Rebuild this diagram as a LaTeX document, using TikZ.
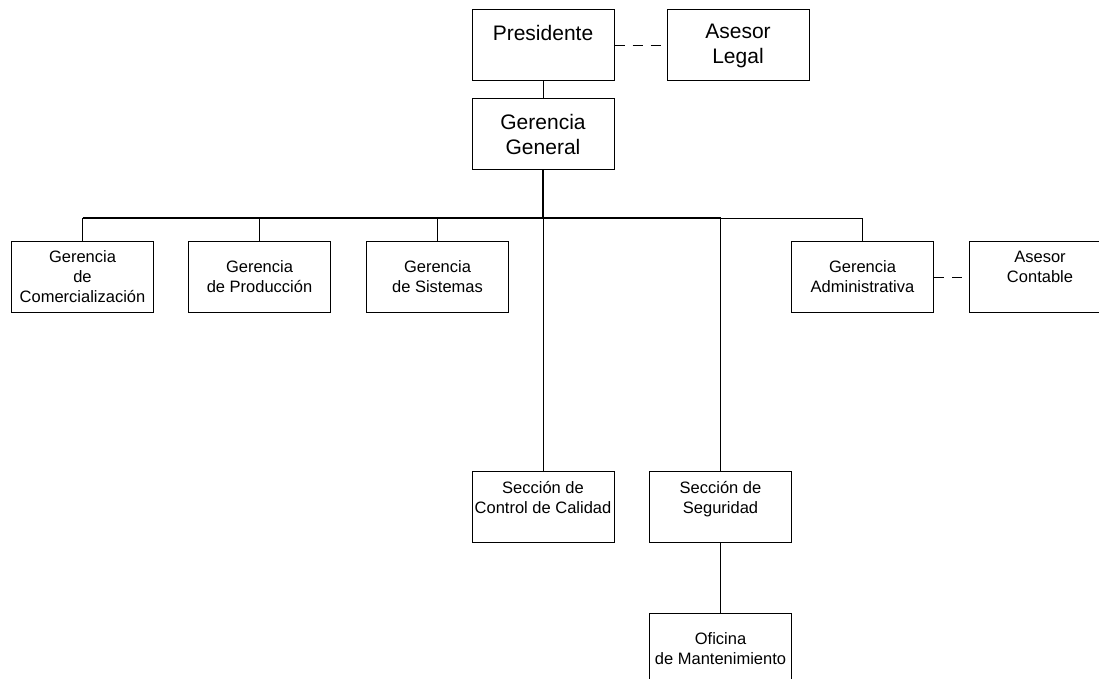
\documentclass[tikz,border=0pt]{standalone}
\usepackage{fontspec}
\setmainfont{Liberation Sans}
\begin{document}
\begin{tikzpicture}[x=1pt,y=-1pt,
  unitbox/.style={draw=black,line width=1pt,fill=white,inner sep=0pt,
    minimum width=142pt,minimum height=71pt,align=center},
  bigtext/.style={font=\fontsize{21}{25}\selectfont},
  smalltext/.style={font=\fontsize{16.5}{20}\selectfont},
  link/.style={line width=1pt,draw=black},
  mainlink/.style={line width=1.8pt,draw=black},
  advice/.style={line width=1pt,draw=black,dash pattern=on 10pt off 8pt}]
\useasboundingbox (0,0) rectangle (1099,679);
\begin{scope}
\clip (0,0) rectangle (1099,679);
% top levels
\node[unitbox,bigtext] (pres) at (543,45.5) {Presidente\\\mbox{}};
\node[unitbox,bigtext] (legal) at (738,45.5) {Asesor\\Legal};
\node[unitbox,bigtext] (gg) at (543,134.5) {Gerencia\\General};
% second level
\node[unitbox,smalltext] (com) at (82.5,277) {Gerencia\\de\\Comercialización};
\node[unitbox,smalltext] (prod) at (259.5,277) {Gerencia\\de Producción};
\node[unitbox,smalltext] (sis) at (437.5,277) {Gerencia\\de Sistemas};
\node[unitbox,smalltext] (adm) at (862.5,277) {Gerencia\\Administrativa};
\node[unitbox,smalltext] (cont) at (1040,277) {Asesor\\Contable\\\mbox{}};
% sections
\node[unitbox,smalltext] (cal) at (543,507) {Sección de\\Control de Calidad\\\mbox{}};
\node[unitbox,smalltext] (seg) at (720.5,507) {Sección de\\Seguridad\\\mbox{}};
\node[unitbox,smalltext] (ofi) at (720.5,648.5) {Oficina\\de Mantenimiento};
\coordinate (bus) at (0,218);
% connectors
\draw[link] (pres.south) -- (gg.north);
\draw[advice] (pres.east) -- (legal.west);
\draw[advice] (adm.east) -- (cont.west);
\draw[link] (com.north) -- (com.north|-bus);
\draw[link] (prod.north) -- (prod.north|-bus);
\draw[link] (sis.north) -- (sis.north|-bus);
\draw[link] (adm.north) -- (adm.north|-bus) -- (seg.north|-bus);
\draw[link] (cal.north) -- (cal.north|-bus);
\draw[link] (seg.north) -- (seg.north|-bus);
\draw[link] (seg.south) -- (ofi.north);
\draw[mainlink] (gg.south) -- (gg.south|-bus);
\draw[mainlink] (com.north|-bus) -- (seg.north|-bus);
\end{scope}
\end{tikzpicture}
\end{document}
